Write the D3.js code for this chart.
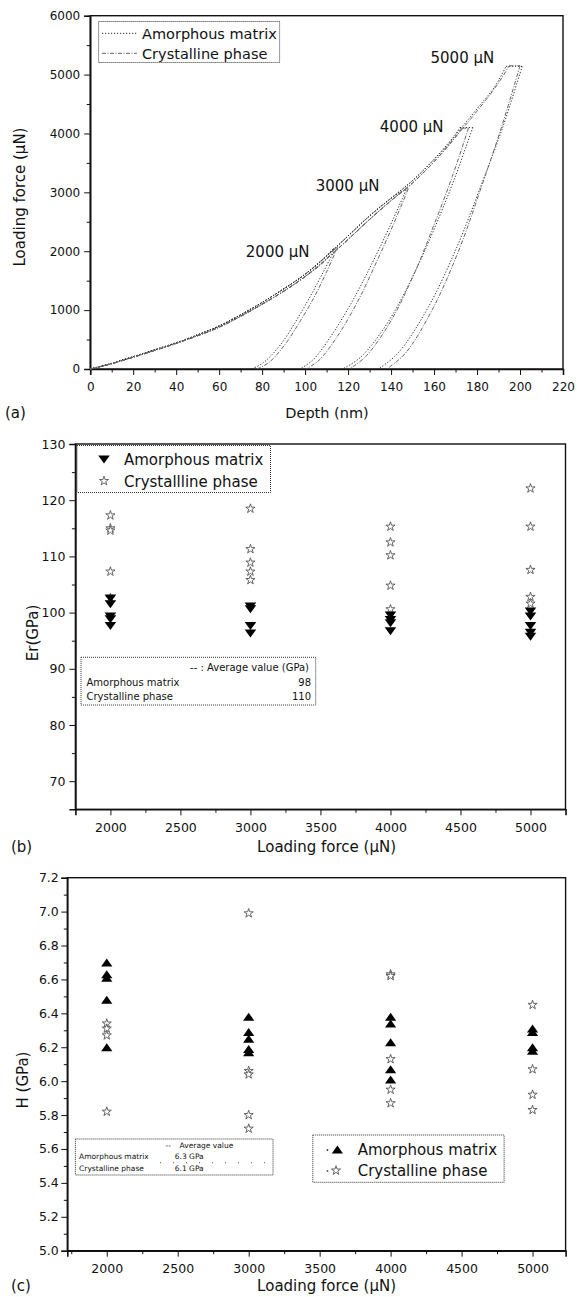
<!DOCTYPE html>
<html><head><meta charset="utf-8">
<script src="https://cdn.jsdelivr.net/npm/d3@7"></script>
<style>
html,body{margin:0;padding:0;background:#fff;}
text{font-family:"DejaVu Sans",sans-serif;fill:#111;}
</style></head>
<body>
<script>
// ---------- Panel (a) data : load–depth curves ----------
const depthTicks = [0,20,40,60,80,100,120,140,160,180,200,220];
const forceTicks = [0,1000,2000,3000,4000,5000,6000];
const loadLabels = ["2000 µN","3000 µN","4000 µN","5000 µN"];
const seriesNames = ["Amorphous matrix","Crystalline phase"];
// loading branches [depth nm, force µN]
const amorphLoading = [[0,0],[10,95],[20,210],[30,325],[40,445],[50,580],[60,730],[70,920],[80,1130],[90,1360],[100,1610],[110,1920],[120,2260],[130,2600],[140,2900],[150,3200],[160,3560],[170,3980],[180,4420],[190,4900],[195,5150]];
const crystLoading  = [[0,0],[10,90],[20,200],[30,315],[40,435],[50,565],[60,710],[70,895],[80,1100],[90,1320],[100,1570],[110,1870],[120,2200],[130,2540],[140,2860],[150,3160],[160,3520],[170,3940],[180,4380],[190,4860],[196,5160]];
// peak of each test
const amorphPeaks = [[113,2040],[146,3040],[172,4100],[193.5,5140]];
const crystPeaks  = [[114,2060],[147,3060],[173,4090],[195,5150]];
// hold end + unloading branches
const amorphUnload = [
  [[114,2040],[108.5,1650],[102.5,1240],[96,830],[88.5,410],[80.5,105],[75,0]],
  [[147,3040],[139.5,2430],[131.5,1820],[123,1220],[113,610],[103.5,150],[97.5,0]],
  [[178,4100],[170,3280],[161,2460],[151,1640],[139,820],[126,205],[117.5,0]],
  [[201,5140],[192,4110],[181.5,3080],[170.5,2060],[157,1030],[143,260],[134,0]]
];
const crystUnload = [
  [[115,2060],[110,1650],[104.5,1240],[98,830],[90.5,410],[83,105],[77.5,0]],
  [[148,3060],[141,2450],[133.5,1840],[125.5,1220],[116,610],[106.5,150],[100.5,0]],
  [[176,4090],[168.5,3270],[160,2450],[151,1640],[140,820],[128,205],[120.5,0]],
  [[200,5150],[191.5,4120],[182,3090],[172,2060],[159.5,1030],[146.5,260],[138,0]]
];

// ---------- Panel (b) / (c) data ----------
const loads = [2000,3000,4000,5000];
const loadTicks = [2000,2500,3000,3500,4000,4500,5000];
const erTicks = [70,80,90,100,110,120,130];
const hTicks = [5.0,5.2,5.4,5.6,5.8,6.0,6.2,6.4,6.6,6.8,7.0,7.2];
const erAmorphous = [
  [102.5,101.5,99.3,98.8,97.6],
  [101.1,100.6,97.6,96.3],
  [99.5,98.7,98.1,96.7],
  [100.2,99.3,97.6,96.4,95.7]
];
const erCrystalline = [
  [117.3,115.0,114.6,107.3,102.6],
  [118.5,111.3,108.9,107.3,105.8],
  [115.3,112.5,110.2,104.8,100.6],
  [122.1,115.3,107.6,102.8,101.6]
];
const hAmorphous = [
  [6.70,6.63,6.61,6.48,6.20],
  [6.38,6.29,6.25,6.19,6.17],
  [6.38,6.34,6.23,6.07,6.01],
  [6.31,6.29,6.20,6.18]
];
const hCrystalline = [
  [6.34,6.31,6.27,5.82],
  [6.99,6.06,6.04,5.80,5.72],
  [6.63,6.62,6.13,5.95,5.87],
  [6.45,6.07,5.92,5.83]
];
const erAverages = ["98","110"];
const hAverages = ["6.3 GPa","6.1 GPa"];

// ---------- drawing ----------
const svg = d3.select("body").append("svg").attr("width",577).attr("height",1297);
svg.append("rect").attr("width",577).attr("height",1297).attr("fill","#fff");

function axes(x, y, xMajor, xMinor, yMajor, yMinor, xFmt, yFmt, xPad, yPad, fs){
  const [x0,x1] = x.range(), [y0,y1] = y.range(); // y0 bottom, y1 top
  const g = svg.append("g");
  g.append("g").attr("transform",`translate(0,${y0})`)
    .call(d3.axisBottom(x).tickValues(xMajor).tickSize(6).tickPadding(xPad).tickFormat(xFmt));
  g.append("g").attr("transform",`translate(0,${y0})`)
    .call(d3.axisBottom(x).tickValues(xMinor).tickSize(3.5).tickFormat(""))
    .call(s=>s.select(".domain").remove());
  g.append("g").attr("transform",`translate(${x0},0)`)
    .call(d3.axisLeft(y).tickValues(yMajor).tickSize(6).tickPadding(yPad).tickFormat(yFmt));
  g.append("g").attr("transform",`translate(${x0},0)`)
    .call(d3.axisLeft(y).tickValues(yMinor).tickSize(3.5).tickFormat(""))
    .call(s=>s.select(".domain").remove());
  g.selectAll(".tick line").attr("stroke","#111").attr("stroke-width",1);
  g.selectAll(".domain").attr("stroke","#111").attr("stroke-width",1.6);
  g.selectAll(".tick text").attr("font-size",fs).attr("font-family","DejaVu Sans").attr("fill","#111");
  g.append("rect").attr("x",x0).attr("y",y1).attr("width",x1-x0).attr("height",y0-y1)
    .attr("fill","none").attr("stroke","#111").attr("stroke-width",1.4);
  return g;
}
function text(x,y,s,fs,anchor,extra){
  const t = svg.append("text").attr("x",x).attr("y",y).attr("font-size",fs).text(s);
  if(anchor) t.attr("text-anchor",anchor);
  if(extra) extra(t);
  return t;
}
function range(a,b,step){const r=[];for(let v=a;v<=b+1e-9;v+=step)r.push(+v.toFixed(4));return r;}

// ===== Panel (a) =====
const xA = d3.scaleLinear([0,220],[90.2,563]);
const yA = d3.scaleLinear([0,6000],[369,15.7]);
axes(xA,yA,depthTicks,range(10,210,20),forceTicks,range(500,5500,1000),d3.format("d"),d3.format("d"),7,4,12);

const lineLoad = d3.line().x(d=>xA(d[0])).y(d=>yA(d[1])).curve(d3.curveMonotoneX);
const lineHold = d3.line().x(d=>xA(d[0])).y(d=>yA(d[1]));
const lineUnload = d3.line().x(d=>xA(d[0])).y(d=>yA(d[1])).curve(d3.curveCatmullRom);
const styles = [
  {load:amorphLoading, peaks:amorphPeaks, unload:amorphUnload, color:"#2a2a2a", dash:"1.2,1.8"},
  {load:crystLoading, peaks:crystPeaks, unload:crystUnload, color:"#666", dash:"4,1.5,1,1.5"}
];
function curvePath(d){
  return svg.append("path").attr("d",d).attr("fill","none");
}
styles.forEach(st=>{
  st.peaks.forEach((pk,i)=>{
    const pts = st.load.filter(p=>p[0]<pk[0]).concat([pk]);
    const un = st.unload[i];
    [lineLoad(pts), lineHold([pk,un[0]]), lineUnload(un)].forEach(d=>
      curvePath(d).attr("stroke",st.color).attr("stroke-width",1).attr("stroke-dasharray",st.dash));
  });
});
// legend (a)
svg.append("rect").attr("x",98.6).attr("y",21.5).attr("width",181).attr("height",41)
  .attr("fill","#fff").attr("stroke","#333").attr("stroke-width",1).attr("stroke-dasharray","1,1");
[33.3,53.3].forEach((yy,i)=>{
  svg.append("line").attr("x1",102).attr("x2",137).attr("y1",yy).attr("y2",yy)
    .attr("stroke",styles[i].color).attr("stroke-width",1).attr("stroke-dasharray",styles[i].dash);
  text(142,yy+5.3,seriesNames[i],14.5);
});
// load annotations
const annPos = [[245.8,256.7],[315.7,190.7],[379.8,132],[430.5,63]];
loadLabels.forEach((s,i)=>text(annPos[i][0],annPos[i][1],s,15));
text(327,418,"Depth (nm)",14.5,"middle");
text(5,418,"(a)",15);
text(0,0,"Loading force (µN)",15,"middle",t=>t.attr("transform","translate(25,197) rotate(-90)"));

// ===== Panel (b) =====
const xB = d3.scaleLinear([1750,5250],[75.4,565.5]);
const yB = d3.scaleLinear([65,130],[809.3,444]);
axes(xB,yB,loadTicks,[2250,2750,3250,3750,4250,4750],erTicks,[75,85,95,105,115,125],d3.format("d"),d3.format("d"),8,4,12.5);

const triDown = {draw(ctx,size){const w=5.8,h=8;ctx.moveTo(-w,-h/2);ctx.lineTo(w,-h/2);ctx.lineTo(0,h/2);ctx.closePath();}};
const triUp = {draw(ctx,size){const w=5.6,h=8;ctx.moveTo(-w,h/2);ctx.lineTo(w,h/2);ctx.lineTo(0,-h/2);ctx.closePath();}};
const starSym = d3.symbol(d3.symbolStar,26);

function stars(x,y,data){
  data.forEach((vals,i)=>vals.forEach(v=>{
    svg.append("path").attr("d",starSym()).attr("transform",`translate(${x(loads[i])},${y(v)})`)
      .attr("fill","#fff").attr("stroke","#555").attr("stroke-width",0.9);
  }));
}
function tris(x,y,data,type){
  data.forEach((vals,i)=>vals.forEach(v=>{
    svg.append("path").attr("d",d3.symbol(type)()).attr("transform",`translate(${x(loads[i])},${y(v)})`)
      .attr("fill","#000");
  }));
}
stars(xB,yB,erCrystalline);
tris(xB,yB,erAmorphous,triDown);

// legend (b)
svg.append("rect").attr("x",77).attr("y",445.5).attr("width",193.5).attr("height",47)
  .attr("fill","none").attr("stroke","#333").attr("stroke-width",1).attr("stroke-dasharray","1,1");
svg.append("path").attr("d",d3.symbol(triDown)()).attr("transform","translate(104,459.5)").attr("fill","#000");
svg.append("path").attr("d",starSym()).attr("transform","translate(104,481)").attr("fill","#fff").attr("stroke","#555").attr("stroke-width",0.9);
text(124,465,"Amorphous matrix",15);
text(124,486.5,"Crystallline phase",15);
// table (b)
svg.append("rect").attr("x",81).attr("y",657.3).attr("width",234.7).attr("height",47.7)
  .attr("fill","none").attr("stroke","#333").attr("stroke-width",1).attr("stroke-dasharray","1,1");
text(309,670.5,"-- : Average value (GPa)",10,"end");
text(86.5,685.5,"Amorphous matrix",10);
text(311,685.5,erAverages[0],10,"end");
text(86.5,700,seriesNames[1],10);
text(311,700,erAverages[1],10,"end");
text(326.6,852,"Loading force (µN)",15,"middle");
text(11,852,"(b)",15);
text(0,0,"Er(GPa)",15,"middle",t=>t.attr("transform","translate(38,633) rotate(-90)"));

// ===== Panel (c) =====
const xC = d3.scaleLinear([1722,5233],[67.3,565.6]);
const yC = d3.scaleLinear([5.0,7.2],[1250.7,877.7]);
axes(xC,yC,loadTicks,[1750,2250,2750,3250,3750,4250,4750],hTicks,range(5.1,7.1,0.2),d3.format("d"),d3.format(".1f"),7.5,2.5,12.5);
stars(xC,yC,hCrystalline);
tris(xC,yC,hAmorphous,triUp);

// legend (c)
svg.append("rect").attr("x",312.8).attr("y",1135).attr("width",191.3).attr("height",47.3)
  .attr("fill","#fff").attr("stroke","#333").attr("stroke-width",1).attr("stroke-dasharray","1,1");
svg.append("circle").attr("cx",327.5).attr("cy",1150).attr("r",0.9).attr("fill","#333");
svg.append("path").attr("d",d3.symbol(triUp)()).attr("transform","translate(337.4,1149.5)").attr("fill","#000");
svg.append("circle").attr("cx",327.5).attr("cy",1171).attr("r",0.9).attr("fill","#555");
svg.append("path").attr("d",starSym()).attr("transform","translate(336,1170.5)").attr("fill","#fff").attr("stroke","#555").attr("stroke-width",0.9);
text(357.7,1155,"Amorphous matrix",15);
text(357.7,1176,"Crystalline phase",15);
// table (c)
svg.append("rect").attr("x",75.4).attr("y",1139).attr("width",197.6).attr("height",36)
  .attr("fill","#fff").attr("stroke","#333").attr("stroke-width",1).attr("stroke-dasharray","1,1");
text(165.6,1147.5,"--",7.5);
text(179.6,1147.5,"Average value",7.5);
text(79.1,1159.3,"Amorphous matrix",7.5);
text(174.8,1159.3,hAverages[0],7.5);
svg.append("line").attr("x1",160).attr("x2",272).attr("y1",1162.7).attr("y2",1162.7)
  .attr("stroke","#555").attr("stroke-width",1).attr("stroke-dasharray","1,12");
text(79.1,1171,"Crystalline phase",7.5);
text(174.8,1171,hAverages[1],7.5);
text(326.6,1291,"Loading force (µN)",15,"middle");
text(11,1291,"(c)",15);
text(0,0,"H (GPa)",15,"middle",t=>t.attr("transform","translate(28,1080) rotate(-90)"));
</script>
</body></html>
